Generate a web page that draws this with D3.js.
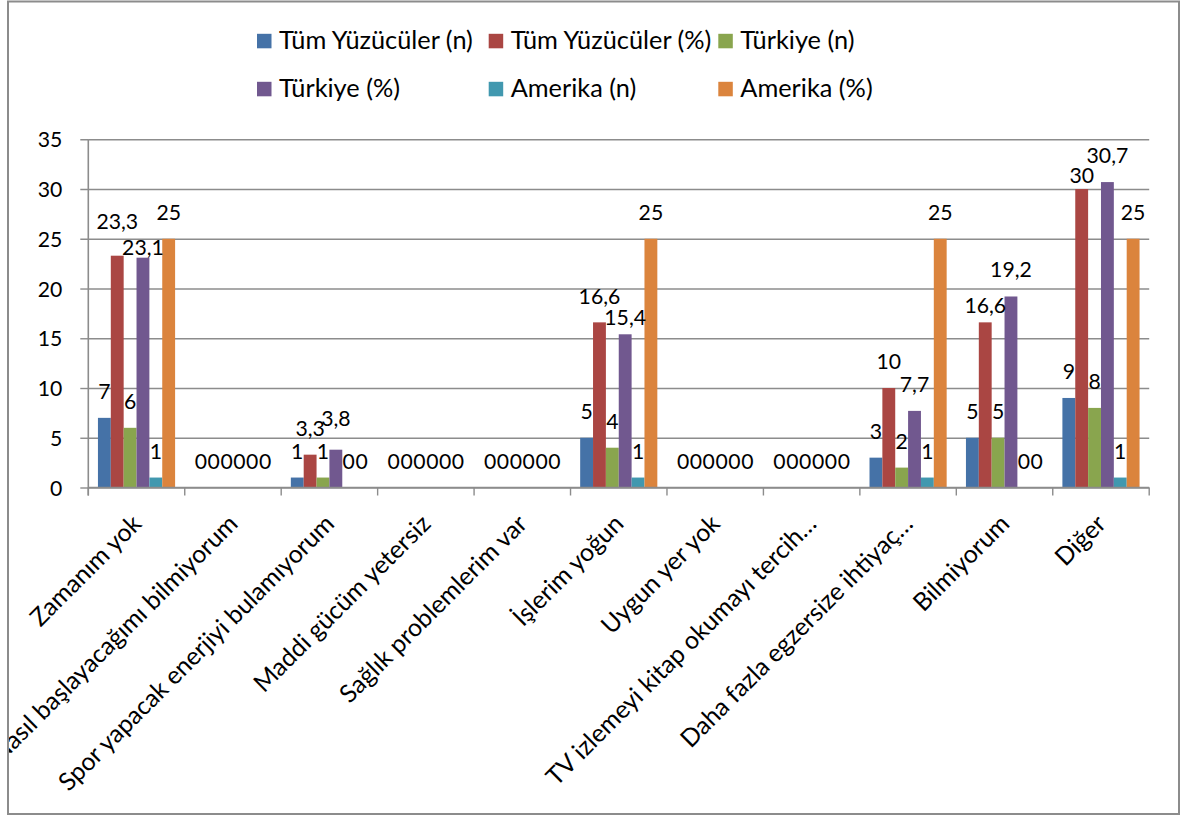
<!DOCTYPE html>
<html><head><meta charset="utf-8">
<script src="https://cdn.jsdelivr.net/npm/d3@7"></script>
<style>body{margin:0;background:#fff}svg{display:block}</style>
</head><body><svg id="c" width="1183" height="816"></svg>
<script>
// ---- data ----
const categories = ["Zamanım yok","Nasıl başlayacağımı bilmiyorum","Spor yapacak enerjiyi bulamıyorum","Maddi gücüm yetersiz","Sağlık problemlerim var","İşlerim yoğun","Uygun yer yok","TV izlemeyi kitap okumayı tercih…","Daha fazla egzersize ihtiyaç…","Bilmiyorum","Diğer"];
const seriesNames = ["Tüm Yüzücüler (n)","Tüm Yüzücüler (%)","Türkiye (n)","Türkiye (%)","Amerika (n)","Amerika (%)"];
const tumN = [7,0,1,0,0,5,0,0,3,5,9];
const tumP = [23.3,0,3.3,0,0,16.6,0,0,10,16.6,30];
const trN  = [6,0,1,0,0,4,0,0,2,5,8];
const trP  = [23.1,0,3.8,0,0,15.4,0,0,7.7,19.2,30.7];
const abdN = [1,0,0,0,0,1,0,0,1,0,1];
const abdP = [25,0,0,0,0,25,0,0,25,0,25];
const yTicks = [0,5,10,15,20,25,30,35];

// ---- styles ----
const colors = ["#4572A7","#AA4643","#89A54E","#71588F","#4198AF","#DB843D"];
const FONT = "Lato, 'Open Sans', sans-serif";
// manual label displacements seen in the reference (px, positive = up)
const labelNudge = {"0-1":8,"0-3":-16,"2-3":5,"5-1":-1,"5-3":-10,"9-1":-10,"10-1":-13};

const series = [tumN,tumP,trN,trP,abdN,abdP];
const svg = d3.select("#c");

function fit(str, target){
  const t = svg.append("text").attr("font-family",FONT).attr("font-size",100).text(str);
  const w = t.node().getComputedTextLength(); t.remove();
  return 100*target/w;
}
const numSize = fit("35", 24.6);
const legSize = fit("Tüm Yüzücüler (n)", 194);
const catSize = fit("Zamanım yok", 145);

// frame
svg.append("rect").attr("x",8).attr("y",1.5).attr("width",1171).attr("height",812.5)
  .attr("fill","none").attr("stroke","#8c8c8c").attr("stroke-width",2);
svg.append("defs").append("clipPath").attr("id","fr").append("rect")
  .attr("x",9).attr("y",2.5).attr("width",1169).attr("height",810.5);
const g = svg.append("g").attr("clip-path","url(#fr)");

const X0 = 88.3, X1 = 1149.2, Y0 = 487.5, Y1 = 139.3;
const x = d3.scaleBand().domain(categories).range([X0,X1]).paddingInner(0).paddingOuter(0);
const xs = d3.scaleBand().domain(d3.range(series.length)).range([0,x.bandwidth()]).paddingInner(0).paddingOuter(0.75);
const y = d3.scaleLinear().domain([0,35]).range([Y0,Y1]);

// gridlines
g.append("g").attr("transform",`translate(${X0},0)`)
  .call(d3.axisLeft(y).tickValues(yTicks).tickSize(-(X1-X0)).tickFormat(""))
  .call(s=>{s.select(".domain").remove(); s.selectAll("line").attr("stroke","#8c8c8c").attr("stroke-width",1.4);});

// y axis
g.append("g").attr("transform",`translate(${X0},0)`)
  .call(d3.axisLeft(y).tickValues(yTicks).tickSize(8).tickPadding(18).tickSizeOuter(0))
  .call(s=>{
    s.select(".domain").remove();
    s.selectAll("line").attr("stroke","#8c8c8c").attr("stroke-width",1.4);
    s.selectAll("text").attr("font-family",FONT).attr("font-size",numSize).attr("fill","#000").attr("dy","0.36em");
  });
g.append("line").attr("x1",X0).attr("x2",X0).attr("y1",Y1).attr("y2",Y0+8)
  .attr("stroke","#8c8c8c").attr("stroke-width",1.6);

// bars
const bars = g.append("g");
categories.forEach((c,ci)=>{
  series.forEach((arr,si)=>{
    const v = arr[ci];
    bars.append("rect").attr("x",x(c)+xs(si)).attr("width",xs.bandwidth())
      .attr("y",y(v)).attr("height",Y0-y(v)).attr("fill",colors[si]);
  });
});

// x axis line + boundary ticks
g.append("line").attr("x1",X0).attr("x2",X1).attr("y1",Y0).attr("y2",Y0)
  .attr("stroke","#8c8c8c").attr("stroke-width",1.6);
const bounds = categories.map(c=>x(c)).concat([x.range()[1]]);
g.selectAll(".xt").data(bounds).enter().append("line")
  .attr("x1",d=>d).attr("x2",d=>d).attr("y1",Y0).attr("y2",Y0+8)
  .attr("stroke","#8c8c8c").attr("stroke-width",1.4);

// x labels
const xa = g.append("g").attr("transform",`translate(0,${Y0})`)
  .call(d3.axisBottom(x).tickSize(0).tickPadding(0));
xa.select(".domain").remove();
xa.selectAll(".tick text")
  .attr("font-family",FONT).attr("font-size",catSize).attr("fill","#000")
  .attr("text-anchor","end").attr("y",0).attr("dy","0.36em")
  .attr("transform","translate(0,31.5) rotate(-45)");

// data labels
const fmt = v => String(v).replace(".", ",");
const labels = g.append("g");
categories.forEach((c,ci)=>{
  series.forEach((arr,si)=>{
    const v = arr[ci];
    const nud = labelNudge[ci+"-"+si] || 0;
    labels.append("text")
      .attr("x",x(c)+xs(si)+xs.bandwidth()/2)
      .attr("y",y(v)-19-nud)
      .attr("text-anchor","middle")
      .attr("font-family",FONT).attr("font-size",numSize).attr("fill","#000")
      .text(fmt(v));
  });
});

// legend
const legCols = [257,488.7,718.3];
const legRows = [49.3,97.3];
const leg = g.append("g");
seriesNames.forEach((n,i)=>{
  const col = i%3, row = Math.floor(i/3);
  const lx = legCols[col], ly = legRows[row];
  leg.append("rect").attr("x",lx).attr("y",ly-15.5).attr("width",14.5).attr("height",14.5).attr("fill",colors[i]);
  leg.append("text").attr("x",lx+22).attr("y",ly)
    .attr("font-family",FONT).attr("font-size",legSize).attr("fill","#000").text(n);
});
</script></body></html>
